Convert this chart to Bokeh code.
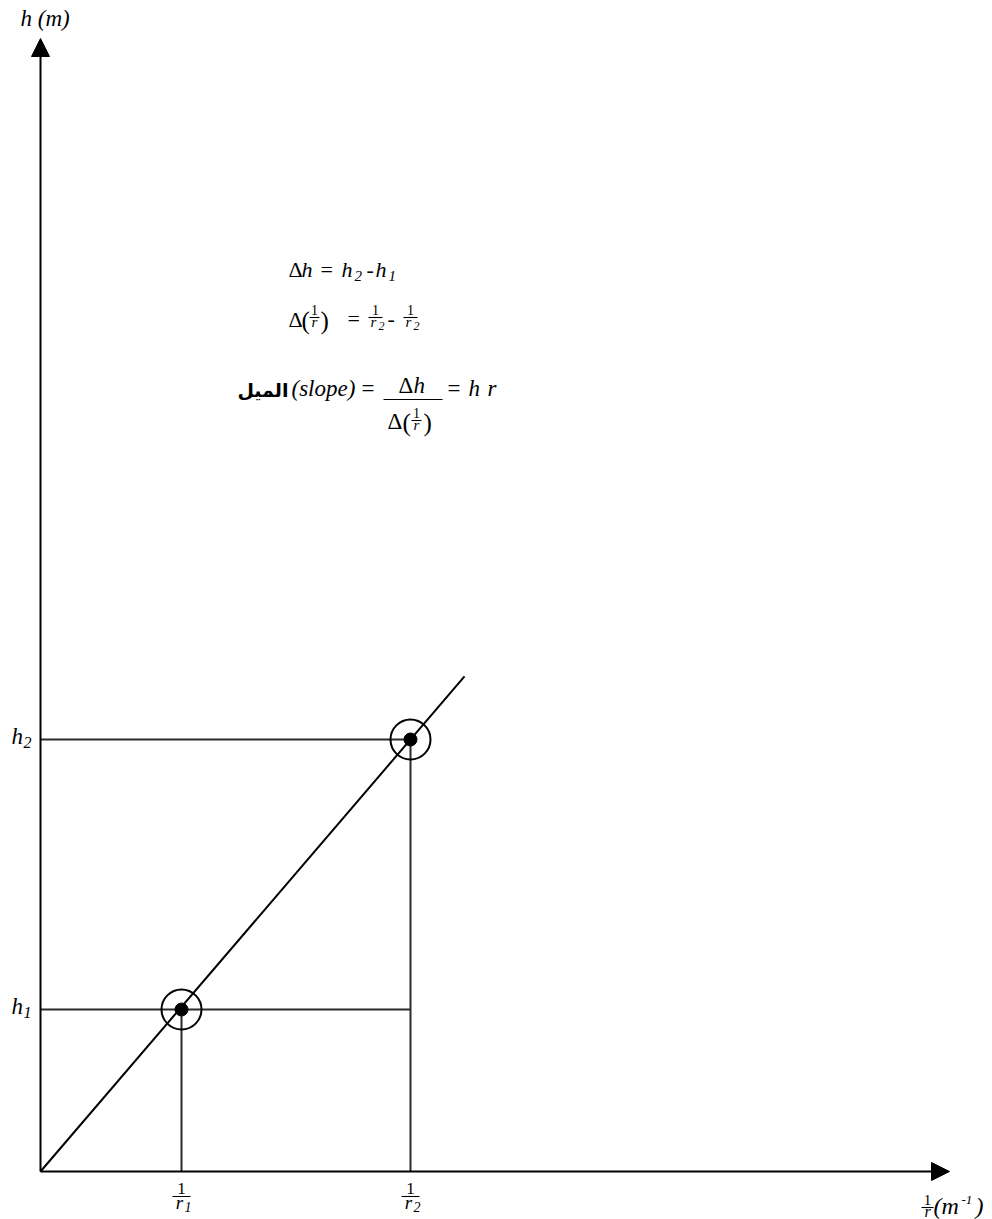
from bokeh.plotting import figure
from bokeh.models import Range1d, Arrow, NormalHead
from bokeh.core.properties import value
from bokeh.embed import file_html
from bokeh.resources import INLINE

# Measured points: 1/r (m^-1) and capillary height h (m), arbitrary schematic units
inv_r = [1.41, 3.70]
h_vals = [1.62, 4.32]
point_labels = ["1", "2"]

# Best line through the origin
slope = h_vals[1] / inv_r[1]
line_x = [0.0, 4.24]
line_y = [slope * x for x in line_x]

# Axis extents (arrow tips)
x_axis_end = 9.09
y_axis_end = 11.33

W, H = 992, 1219
X0, Y0 = 40, 1171  # canvas position of the origin
S = 100.0          # pixels per unit

p = figure(width=W, height=H, output_backend="svg", toolbar_location=None,
           x_range=Range1d(-X0 / S, (W - X0) / S),
           y_range=Range1d(-(H - Y0) / S, Y0 / S),
           x_axis_type=None, y_axis_type=None, min_border=0)
p.grid.visible = False
p.outline_line_color = None
p.background_fill_color = "white"
p.border_fill_color = "white"


def dx(px):
    return (px - X0) / S


def dy(py):
    return (Y0 - py) / S


def cx(x):
    return X0 + x * S


def cy(y):
    return Y0 - y * S


SERIF = "Liberation Serif"


def put(s, px, py, size, style="normal", align="left", font=SERIF):
    # py is the wanted baseline; lift slightly to compensate the renderer's offset
    lift = 2 + 0.22 * size
    p.text(x=[dx(px)], y=[dy(py - lift)], text=[s], text_font=value(font),
           text_font_size=f"{size}px", text_font_style=style,
           text_align=align, text_baseline="alphabetic", text_color="black")


def bar(px0, px1, py, w=1.1):
    p.segment(x0=[dx(px0)], y0=[dy(py)], x1=[dx(px1)], y1=[dy(py)],
              line_color="black", line_width=w)


def frac_one_over_r(xc, py_bar, sub=None, size=14, r_size=None, sub_size=10, half=8):
    r_size = r_size or size + 1
    put("1", xc, py_bar - 2, size, align="center")
    bar(xc - half, xc + half, py_bar)
    put("r", xc - (2 if sub else 0), py_bar + 0.62 * r_size, r_size, style="italic", align="center")
    if sub:
        put(sub, xc + 3, py_bar + 0.62 * r_size + 4, sub_size, style="italic")


# Axes with arrow heads
for xe, ye in [(x_axis_end, 0.0), (0.0, y_axis_end)]:
    p.add_layout(Arrow(end=NormalHead(size=18, fill_color="black", line_color="black"),
                       x_start=0, y_start=0, x_end=xe, y_end=ye,
                       line_color="black", line_width=2))

# Guide lines from the axes to the measured points
p.segment(x0=[0, 0, inv_r[0], inv_r[1]],
          y0=[h_vals[0], h_vals[1], 0, 0],
          x1=[inv_r[1], inv_r[1], inv_r[0], inv_r[1]],
          y1=[h_vals[0], h_vals[1], h_vals[0], h_vals[1]],
          line_color="#2b2b2b", line_width=2)

# Straight line through the origin
p.line(line_x, line_y, line_color="black", line_width=2)

# Points: ring + filled dot
p.scatter(inv_r, h_vals, marker="circle", size=40, fill_color=None,
          line_color="black", line_width=2)
p.scatter(inv_r, h_vals, marker="circle", size=13, fill_color="black",
          line_color="black")

# Axis titles
put("h (m)", 20, 25, 23, style="italic")
frac_one_over_r(927, 1207, size=15, r_size=16, half=6)
put("(m", 933, 1213, 24, style="italic")
put("-1", 961, 1204, 13, style="italic")
put(")", 975, 1213, 24, style="italic")

# Tick labels on the y axis
for hv, lab in zip(h_vals, point_labels):
    py = cy(hv)
    put("h", 11, py + 4, 23, style="italic")
    put(lab, 23, py + 9, 16, style="italic")

# Tick labels on the x axis
for xv, lab in zip(inv_r, point_labels):
    frac_one_over_r(cx(xv), 1196, sub=lab, size=17, r_size=19, sub_size=14, half=9)

# Formulas
F = 22
put("\u0394", 288, 276, F)
put("h", 301, 276, F, style="italic")
put("=", 320, 276, F)
put("h", 341, 276, F, style="italic")
put("2", 354, 281, 15, style="italic")
put("-", 366, 276, F)
put("h", 375, 276, F, style="italic")
put("1", 388, 281, 15, style="italic")

put("\u0394", 288, 326, F)
put("(", 301, 327, 25)
frac_one_over_r(314, 317, size=14, half=5)
put(")", 320, 327, 25)
put("=", 347, 325, F)
frac_one_over_r(375, 317, sub="2", size=14, sub_size=12, half=7)
put("-", 387, 325, F)
frac_one_over_r(410, 317, sub="2", size=14, sub_size=12, half=7)

G = 23
put("\u0627\u0644\u0645\u064a\u0644", 288, 396, 19, style="bold", align="right", font="DejaVu Sans")
put("(slope)", 291, 395, G, style="italic")
put("=", 361, 395, G)
put("\u0394", 398, 392, G)
put("h", 413, 392, G, style="italic")
bar(383, 442, 399, w=1.2)
put("\u0394", 387, 428, G)
put("(", 402, 429, 25)
frac_one_over_r(416, 420, size=14, half=5)
put(")", 423, 429, 25)
put("=", 447, 395, G)
put("h", 468, 395, G, style="italic")
put("r", 487, 395, G, style="italic")

open("out.html", "w").write(file_html(p, INLINE))
